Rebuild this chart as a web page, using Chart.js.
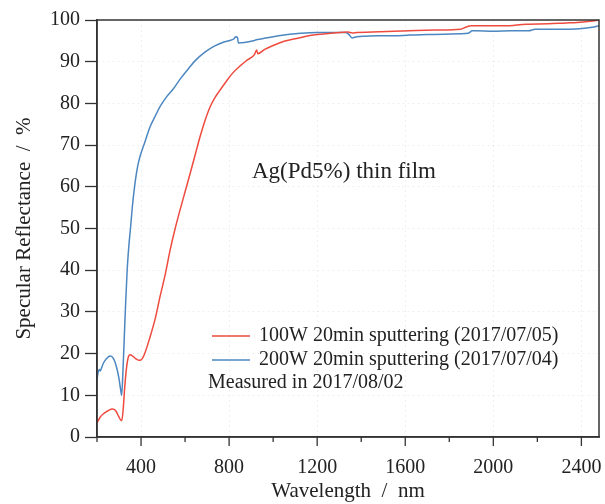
<!DOCTYPE html>
<html>
<head>
<meta charset="utf-8">
<script src="https://cdn.jsdelivr.net/npm/chart.js@4"></script>
<style>
  html, body { margin: 0; padding: 0; background: #fff; }
  #wrap { width: 605px; height: 504px; }
</style>
</head>
<body>
<div id="wrap"><canvas id="reflChart"></canvas></div>
<script>
'use strict';

// --- data ---
const BLUE_WL = [200, 205, 210, 215, 220, 230, 245, 260, 275, 290, 300, 307, 312, 318, 324, 330, 337, 345, 352, 362, 373, 385, 395, 418, 441, 465, 486, 515, 547, 580, 615, 645, 690, 735, 780, 810, 822, 830, 838, 842, 870, 900, 930, 960, 1000, 1050, 1100, 1150, 1200, 1250, 1300, 1330, 1345, 1358, 1380, 1420, 1480, 1550, 1620, 1700, 1780, 1850, 1885, 1905, 1920, 2000, 2080, 2160, 2190, 2250, 2320, 2390, 2440, 2480];
const BLUE_R  = [13.7, 15.5, 16.2, 15.8, 16.5, 17.8, 18.9, 19.4, 18.8, 16.5, 14, 11.5, 10, 16, 24, 32, 40, 46, 50, 56, 61, 65, 67.2, 70.8, 74.4, 77, 79.2, 81.5, 83.5, 86, 88.3, 90.2, 92.3, 93.8, 94.8, 95.2, 95.5, 96.0, 95.8, 94.5, 94.6, 94.9, 95.3, 95.6, 96.0, 96.4, 96.7, 96.9, 97.0, 97.0, 97.0, 97.0, 96.5, 95.7, 96.0, 96.1, 96.2, 96.2, 96.4, 96.5, 96.6, 96.7, 96.8, 97.4, 97.4, 97.3, 97.4, 97.4, 97.8, 97.8, 97.8, 97.9, 98.2, 98.6];

const RED_WL = [200, 215, 230, 250, 270, 285, 298, 307, 312, 318, 326, 335, 345, 352, 362, 375, 390, 400, 415, 441, 465, 486, 510, 532, 555, 577, 600, 623, 645, 668, 690, 714, 737, 759, 790, 815, 850, 880, 915, 925, 930, 960, 1000, 1050, 1100, 1150, 1200, 1260, 1300, 1340, 1360, 1380, 1450, 1550, 1650, 1750, 1850, 1880, 1900, 1950, 2050, 2150, 2250, 2330, 2380, 2440, 2480];
const RED_R  = [3.4, 4.8, 5.6, 6.3, 6.7, 6.3, 5.0, 4.1, 3.9, 6, 12, 17, 19.5, 19.7, 19.4, 18.8, 18.4, 18.5, 19.8, 24, 28.5, 33.6, 39, 44.8, 50, 54.4, 58.8, 63.2, 67.5, 72, 75.8, 79.2, 81.5, 83.2, 85.5, 87.2, 89, 90.3, 91.7, 92.8, 91.9, 92.9, 93.9, 94.9, 95.5, 96.1, 96.5, 96.8, 97.0, 97.1, 96.9, 97.0, 97.1, 97.3, 97.5, 97.6, 97.8, 98.4, 98.6, 98.6, 98.6, 99.0, 99.1, 99.3, 99.4, 99.7, 100.0];

// x ticks every 200 nm, labels every 400 nm
const X_TICKS = [200, 400, 600, 800, 1000, 1200, 1400, 1600, 1800, 2000, 2200, 2400];

const SERIES_LABELS = ['100W 20min sputtering (2017/07/05)', '200W 20min sputtering (2017/07/04)'];
const NOTE_MEASURED = 'Measured in 2017/08/02';
const NOTE_SAMPLE = 'Ag(Pd5%) thin film';

const RED = '#ee4b3f';
const BLUE = '#4d87c1';
const INK = '#222';
const SERIF = '"Liberation Serif", "Times New Roman", serif';

const toPoints = (xs, ys) => xs.map((x, i) => ({ x: x, y: ys[i] }));

// frame, x tick marks (major/minor), legend and notes
const decor = {
  id: 'decor',
  afterDraw(chart) {
    const { ctx, chartArea: a, scales } = chart;
    ctx.save();
    ctx.strokeStyle = '#333';
    ctx.lineWidth = 1.5;
    ctx.strokeRect(a.left, a.top, a.right - a.left, a.bottom - a.top);

    ctx.lineWidth = 1.3;
    X_TICKS.forEach((v) => {
      const px = scales.x.getPixelForValue(v);
      const len = v % 400 === 0 ? 9 : 5;
      ctx.beginPath();
      ctx.moveTo(px, a.bottom);
      ctx.lineTo(px, a.bottom + len);
      ctx.stroke();
    });

    ctx.fillStyle = INK;
    ctx.textBaseline = 'middle';
    ctx.font = '23px ' + SERIF;
    ctx.fillText(NOTE_SAMPLE, 252, 172);

    ctx.font = '20px ' + SERIF;
    const rows = [[RED, 336], [BLUE, 360]];
    rows.forEach(([col, y], i) => {
      ctx.strokeStyle = col;
      ctx.lineWidth = 1.5;
      ctx.beginPath();
      ctx.moveTo(212, y);
      ctx.lineTo(250, y);
      ctx.stroke();
      ctx.fillText(chart.data.datasets[i].label, 259, y);
    });
    ctx.fillText(NOTE_MEASURED, 208, 383);
    ctx.restore();
  },
};

new Chart(document.getElementById('reflChart').getContext('2d'), {
  type: 'line',
  data: {
    datasets: [
      {
        label: SERIES_LABELS[0],
        data: toPoints(RED_WL, RED_R),
        borderColor: RED,
        borderWidth: 1.5,
        pointRadius: 0,
        cubicInterpolationMode: 'monotone',
      },
      {
        label: SERIES_LABELS[1],
        data: toPoints(BLUE_WL, BLUE_R),
        borderColor: BLUE,
        borderWidth: 1.5,
        pointRadius: 0,
        cubicInterpolationMode: 'monotone',
      },
    ],
  },
  options: {
    responsive: true,
    maintainAspectRatio: false,
    animation: false,
    layout: { padding: { left: 0, right: 6, top: 20, bottom: 0 } },
    plugins: { legend: { display: false }, tooltip: { enabled: false } },
    scales: {
      x: {
        type: 'linear',
        min: 200,
        max: 2480,
        afterFit: (s) => { s.height = 67; s.paddingLeft = 0; s.paddingRight = 0; },
        afterBuildTicks: (s) => { s.ticks = X_TICKS.map((v) => ({ value: v })); },
        ticks: {
          autoSkip: false,
          maxRotation: 0,
          padding: 10,
          color: INK,
          font: { family: SERIF, size: 20 },
          callback: (v) => (v % 400 === 0 ? String(v) : ''),
        },
        grid: {
          color: (c) => (c.tick && c.tick.value % 400 === 0 && c.tick.value > 200 ? 'rgba(0,0,0,0.06)' : 'transparent'),
          tickLength: 9,
          tickColor: 'transparent',
        },
        border: { color: '#333', width: 1.5, dash: [2, 3] },
        title: {
          display: true,
          text: 'Wavelength  /  nm',
          color: INK,
          font: { family: SERIF, size: 21 },
          padding: { top: 0, bottom: 0 },
        },
      },
      y: {
        min: 0,
        max: 100,
        afterFit: (s) => { s.width = 97; s.paddingTop = 0; s.paddingBottom = 0; },
        ticks: {
          stepSize: 10,
          padding: 5,
          color: INK,
          font: { family: SERIF, size: 20 },
        },
        grid: {
          color: (c) => (c.tick && c.tick.value > 0 && c.tick.value < 100 ? 'rgba(0,0,0,0.06)' : 'transparent'),
          tickLength: 12,
          tickColor: '#333',
          tickWidth: 1.3,
        },
        border: { color: '#333', width: 1.5, dash: [2, 3] },
        title: {
          display: true,
          text: 'Specular Reflectance  /  %',
          color: INK,
          font: { family: SERIF, size: 21 },
          padding: { top: 12, bottom: 0 },
        },
      },
    },
  },
  plugins: [decor],
});
</script>
</body>
</html>
